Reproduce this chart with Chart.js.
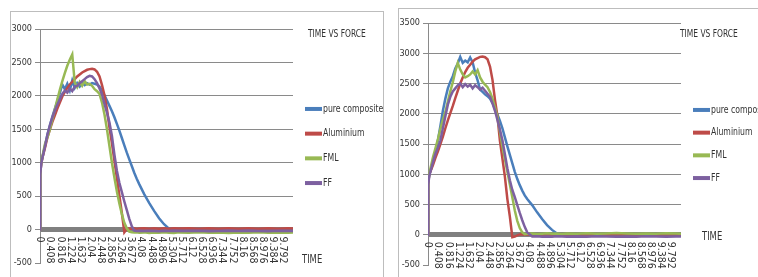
<!DOCTYPE html>
<html>
<head>
<meta charset="utf-8">
<script src="https://cdn.jsdelivr.net/npm/chart.js@4.4.1/dist/chart.umd.min.js"></script>
<style>
body { margin: 0; width: 758px; height: 277px; overflow: hidden; background: #fff; position: relative; }
.box { position: absolute; border: 1px solid #bdbdbd; background: #fff; }
#box1 { left: 10px; top: 11px; width: 372px; height: 290px; }
#box2 { left: 398px; top: 8px; width: 380px; height: 290px; }
canvas { position: absolute; left: 0; top: 0; }
</style>
</head>
<body>
<div class="box" id="box1"><canvas id="c1" width="372" height="265"></canvas></div>
<div class="box" id="box2"><canvas id="c2" width="359" height="268"></canvas></div>
<script>
var names = ['pure composite', 'Aluminium', 'FML', 'FF'];
var colors = ['#4A7EBB', '#BE4B48', '#98B954', '#7D60A0'];
var timeTicks = ['0', '0.408', '0.816', '1.224', '1.632', '2.04', '2.448', '2.856', '3.264', '3.672', '4.08', '4.488', '4.896',
	'5.304', '5.712', '6.12', '6.528', '6.936', '7.344', '7.752', '8.16', '8.568', '8.976', '9.384', '9.792'];

var time = [0, 0.01, 0.05, 0.1, 0.2, 0.3, 0.4, 0.5, 0.6, 0.7, 0.8, 0.9, 1.0, 1.1, 1.2, 1.3, 1.4, 1.5, 1.6, 1.7, 1.8, 1.9, 2.0,
	2.1, 2.2, 2.3, 2.4, 2.5, 2.6, 2.7, 2.8, 2.9, 3.0, 3.1, 3.2, 3.3, 3.4, 3.5, 3.6, 3.7, 3.8, 3.9, 4.0,
	4.2, 4.4, 4.6, 4.8, 5.0, 5.2, 5.4, 5.6, 6.0, 6.4, 6.8, 7.2, 7.6, 8.0, 8.4, 8.8, 9.2, 9.6, 10.0, 10.2];

// left chart
var pureA = [0, 820, 1000, 1080, 1250, 1420, 1560, 1690, 1810, 1920, 2040, 2170, 2100, 2180, 2080, 2230, 2120, 2190, 2140, 2200, 2160, 2190, 2170,
	2190, 2180, 2170, 2140, 2080, 2010, 1930, 1850, 1770, 1680, 1580, 1480, 1370, 1260, 1150, 1050, 950, 850, 760, 680,
	530, 400, 280, 170, 80, 15, 5, 10, 0, 8, 2, 6, 0, 5, 2, 6, 0, 4, 2, 3];
var alA = [0, 850, 980, 1080, 1220, 1380, 1500, 1610, 1710, 1810, 1900, 1990, 2060, 2120, 2170, 2210, 2250, 2290, 2320, 2350, 2370, 2390, 2400,
	2405, 2395, 2360, 2290, 2160, 2010, 1800, 1530, 1290, 1030, 770, 510, 250, -40, 10, 15, 12, 18, 10, 15,
	20, 12, 18, 14, 20, 12, 18, 15, 20, 12, 18, 14, 20, 12, 18, 14, 20, 12, 18, 15];
var fmlA = [0, 880, 1000, 1100, 1280, 1380, 1500, 1650, 1800, 1950, 2090, 2220, 2340, 2450, 2540, 2620, 2200, 2130, 2210, 2150, 2220, 2170, 2180,
	2150, 2100, 2070, 2030, 1900, 1720, 1500, 1250, 1000, 780, 570, 390, 230, 100, 20, -30, -40, -45, -40, -48,
	-42, -50, -44, -48, -40, -46, -50, -42, -46, -40, -48, -44, -50, -42, -46, -40, -48, -44, -46, -42];
var ffA = [0, 830, 990, 1080, 1240, 1420, 1560, 1680, 1780, 1870, 1950, 2030, 2080, 2050, 2110, 2070, 2140, 2150, 2190, 2220, 2250, 2280, 2300,
	2290, 2250, 2190, 2110, 2020, 1880, 1750, 1600, 1400, 1120, 880, 700, 560, 420, 290, 160, 50, -15, -20, -18,
	-22, -16, -20, -24, -18, -22, -16, -20, -22, -18, -24, -20, -16, -22, -18, -20, -24, -18, -20, -22];

// right chart
var pureB = [0, 850, 1000, 1050, 1200, 1380, 1560, 1800, 2050, 2250, 2420, 2530, 2620, 2750, 2830, 2940, 2840, 2880, 2850, 2930, 2850, 2680, 2550,
	2400, 2360, 2320, 2290, 2250, 2180, 2080, 1990, 1880, 1760, 1610, 1460, 1320, 1180, 1040, 920, 820, 730, 650, 590,
	490, 370, 260, 160, 80, 20, 5, 8, 2, 10, 4, 8, 0, 6, 10, 4, 8, 2, 6, 4];
var alB = [0, 850, 1000, 1050, 1150, 1270, 1380, 1500, 1620, 1760, 1890, 2010, 2130, 2260, 2380, 2500, 2600, 2690, 2760, 2810, 2860, 2900, 2920,
	2940, 2945, 2935, 2900, 2780, 2560, 2230, 1960, 1550, 1260, 960, 590, 300, -40, -30, -10, 5, 8, 4, 10,
	6, 2, 8, 4, 10, 2, 6, 8, 4, 10, 6, 2, 8, 4, 10, 6, 2, 8, 4, 6];
var fmlB = [0, 880, 1000, 1100, 1280, 1430, 1580, 1750, 1900, 2030, 2200, 2370, 2520, 2700, 2840, 2730, 2650, 2600, 2620, 2650, 2700, 2650, 2720,
	2600, 2530, 2480, 2440, 2360, 2250, 2100, 1950, 1700, 1460, 1250, 1040, 830, 620, 400, 230, 110, 40, 10, 15,
	20, 12, 18, 25, 15, 20, 12, 22, 18, 25, 15, 22, 28, 20, 15, 22, 18, 25, 20, 15];
var ffB = [0, 830, 970, 1050, 1200, 1340, 1440, 1560, 1760, 1960, 2150, 2280, 2370, 2420, 2470, 2500, 2440, 2490, 2450, 2480, 2420, 2470, 2440,
	2400, 2430, 2380, 2330, 2280, 2170, 2050, 1900, 1740, 1560, 1330, 1100, 900, 740, 620, 490, 360, 240, 130, 40,
	-30, -25, -32, -28, -35, -26, -30, -34, -28, -32, -25, -30, -35, -28, -32, -26, -30, -34, -28, -30];

var FONT = '"Liberation Sans Narrow", "DejaVu Sans Condensed", sans-serif';

function drawText(ctx, str, x, y, size, sx) {
	ctx.save();
	ctx.translate(x, y);
	ctx.scale(sx, 1);
	ctx.font = size + 'px ' + FONT;
	ctx.fillText(str, 0, 0);
	ctx.restore();
}

var textPlugin = {
	id: 'texts',
	afterDraw: function(chart, args, o) {
		var ctx = chart.ctx, a = chart.chartArea;
		var xs = chart.scales.x, ys = chart.scales.y;
		var y0 = ys.getPixelForValue(0);
		ctx.save();
		ctx.fillStyle = '#333';
		ctx.textBaseline = 'middle';
		ctx.textAlign = 'left';
		// time labels, rotated, reading downwards
		ctx.font = '10.5px ' + FONT;
		for (var i = 0; i < timeTicks.length; i++) {
			ctx.save();
			ctx.translate(xs.getPixelForValue(parseFloat(timeTicks[i])), y0 + 7);
			ctx.rotate(Math.PI / 2);
			ctx.fillText(timeTicks[i], 0, 0);
			ctx.restore();
		}
		drawText(ctx, 'TIME VS FORCE', a.right + o.titleX, o.titleY, 11, 0.76);
		drawText(ctx, 'TIME', a.right + o.timeX, o.timeY, 13, 0.72);
		// legend
		var cy = (a.top + a.bottom) / 2;
		for (var k = 0; k < names.length; k++) {
			var yy = cy + (k - 1.5) * o.gap;
			ctx.strokeStyle = colors[k];
			ctx.lineWidth = 4;
			ctx.beginPath();
			ctx.moveTo(a.right + 12, yy);
			ctx.lineTo(a.right + 29, yy);
			ctx.stroke();
			drawText(ctx, names[k], a.right + 30, yy, 10, 0.86);
		}
		ctx.restore();
	}
};

function makeChart(id, sets, yMax, pad, extra) {
	new Chart(document.getElementById(id), {
		type: 'line',
		data: {
			datasets: sets.map(function(v, i) {
				return {
					label: names[i],
					data: time.map(function(t, j) { return { x: t, y: v[j] }; }),
					borderColor: colors[i],
					backgroundColor: colors[i],
					borderWidth: 2.5,
					pointRadius: 0,
					tension: 0,
					order: 4 - i
				};
			})
		},
		options: {
			responsive: false,
			animation: false,
			layout: { padding: pad },
			plugins: { legend: { display: false }, tooltip: { enabled: false }, texts: extra },
			scales: {
				x: { type: 'linear', min: 0, max: 10.2, display: false },
				y: {
					min: -500, max: yMax,
					afterFit: function(s) { s.width = 29; },
					ticks: {
						stepSize: 500, color: '#333', padding: 3, font: { family: FONT, size: 9 },
						callback: function(v) { return String(v); }
					},
					grid: {
						color: function(c) {
							if (c.tick && c.tick.value === -500) return 'rgba(0,0,0,0)';
							return c.tick && c.tick.value === 0 ? '#808080' : '#8a8a8a';
						},
						lineWidth: function(c) { return c.tick && c.tick.value === 0 ? 5 : 1; },
						tickLength: 5, tickColor: '#8a8a8a', tickWidth: 1
					},
					border: { color: '#8a8a8a' }
				}
			}
		},
		plugins: [textPlugin]
	});
}

makeChart('c1', [pureA, alA, fmlA, ffA], 3000, { left: 0, top: 17, right: 90, bottom: 14 },
	{ titleX: 15, titleY: 22, timeX: 9, timeY: 248, gap: 24.7 });
makeChart('c2', [pureB, alB, fmlB, ffB], 3500, { left: 0, top: 14, right: 77, bottom: 12 },
	{ titleX: -1, titleY: 25, timeX: 21, timeY: 228, gap: 22.7 });
</script>
</body>
</html>
